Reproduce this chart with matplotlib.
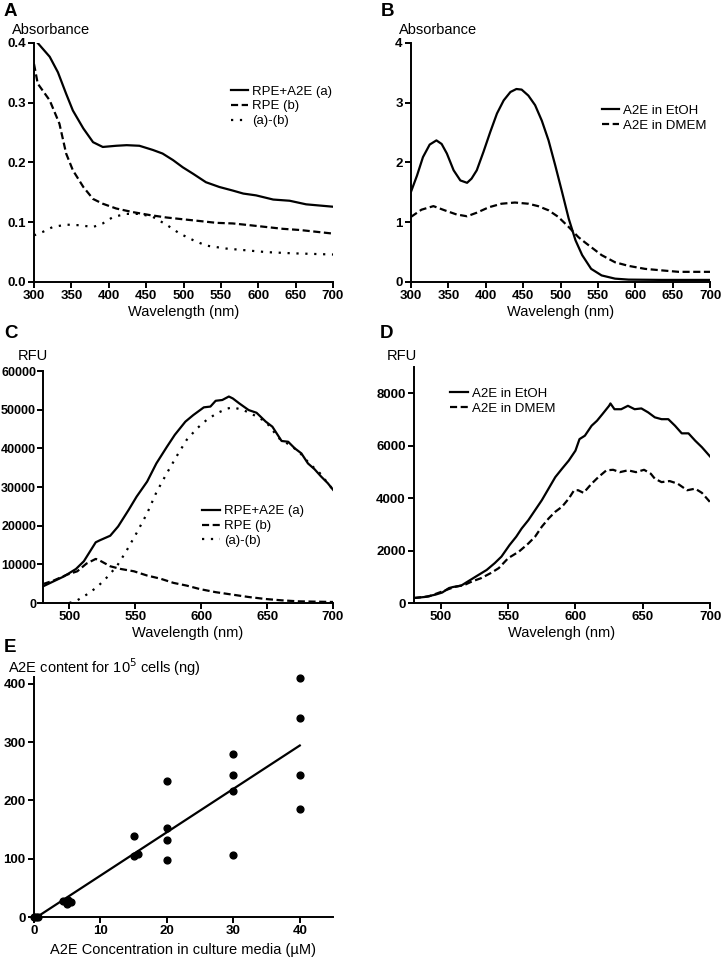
import numpy as np
import matplotlib
matplotlib.use('Agg')
import matplotlib.pyplot as plt

plt.rcParams['font.family'] = ['Liberation Sans', 'DejaVu Sans']

# --- panel A: absorbance of cell extracts ---
wl_a = [305, 321, 332, 343, 352, 366, 379, 392, 410, 424, 441, 459, 472, 486, 499, 513,
        530, 548, 566, 580, 597, 620, 642, 664, 682, 700]
rpe_a2e_a = [0.400, 0.377, 0.351, 0.315, 0.287, 0.257, 0.234, 0.226, 0.228, 0.229, 0.228, 0.221,
             0.215, 0.204, 0.192, 0.181, 0.167, 0.159, 0.153, 0.148, 0.145, 0.138, 0.136, 0.130,
             0.128, 0.126]
wl_b = [300, 305, 321, 334, 343, 352, 366, 379, 392, 410, 432, 455, 477, 499, 522, 544, 566,
        589, 611, 633, 656, 678, 700]
rpe_b = [0.365, 0.332, 0.304, 0.265, 0.215, 0.187, 0.159, 0.139, 0.131, 0.123, 0.117, 0.112,
         0.108, 0.105, 0.102, 0.099, 0.098, 0.095, 0.092, 0.089, 0.087, 0.084, 0.081]
wl_diff = [300, 312, 325, 343, 361, 379, 392, 406, 424, 441, 459, 477, 495, 513, 530, 557, 584,
           611, 646, 673, 700]
diff_ab = [0.078, 0.084, 0.092, 0.096, 0.095, 0.092, 0.098, 0.109, 0.114, 0.114, 0.109, 0.096,
           0.081, 0.070, 0.061, 0.056, 0.053, 0.050, 0.048, 0.047, 0.046]

# --- panel B: A2E absorbance in EtOH / DMEM ---
wl_etoh = [300, 308, 316, 325, 334, 341, 348, 357, 366, 375, 381, 388, 397, 406, 415, 424, 433,
           441, 448, 457, 466, 475, 484, 493, 502, 511, 520, 529, 541, 555, 573, 591, 635, 700]
abs_etoh = [1.51, 1.78, 2.09, 2.30, 2.37, 2.31, 2.15, 1.87, 1.70, 1.66, 1.73, 1.87, 2.18, 2.51,
            2.82, 3.04, 3.18, 3.23, 3.22, 3.12, 2.96, 2.70, 2.37, 1.95, 1.51, 1.06, 0.70, 0.45,
            0.22, 0.11, 0.056, 0.04, 0.035, 0.035]
wl_dmem = [300, 314, 330, 345, 361, 375, 388, 404, 421, 439, 457, 470, 484, 497, 511, 524, 533,
           555, 573, 591, 613, 635, 658, 700]
abs_dmem = [1.09, 1.21, 1.27, 1.20, 1.13, 1.10, 1.16, 1.25, 1.31, 1.33, 1.31, 1.27, 1.20, 1.09,
            0.92, 0.75, 0.66, 0.45, 0.33, 0.27, 0.22, 0.195, 0.17, 0.17]

# --- panel C: fluorescence of cell extracts ---
wl_c1 = [480, 488, 496, 505, 511, 520, 523, 531, 537, 545, 551, 559, 566, 574, 580, 588, 594,
         602, 607, 611, 616, 621, 624, 629, 636, 642, 649, 654, 661, 666, 671, 676, 681, 686,
         691, 696, 700]
rfu_c1 = [4300, 5600, 6900, 8800, 10800, 15700, 16200, 17400, 19800, 24100, 27500, 31400, 36100,
          40400, 43500, 46900, 48600, 50600, 50800, 52300, 52500, 53400, 52900, 51600, 49900,
          49200, 46900, 45600, 41900, 41700, 40000, 38700, 36100, 34600, 32700, 31000, 29300]
wl_c2 = [480, 488, 498, 506, 513, 520, 523, 531, 539, 549, 559, 569, 579, 589, 599, 611, 624,
         636, 649, 661, 674, 700]
rfu_c2 = [4900, 5800, 7300, 8200, 10200, 11400, 11000, 9500, 8800, 8200, 7100, 6300, 5200, 4500,
          3600, 2800, 2150, 1550, 1030, 690, 430, 260]
wl_c3 = [500, 506, 513, 521, 528, 536, 543, 551, 559, 566, 574, 582, 589, 597, 604, 612, 620,
         624, 632, 640, 649, 659, 667, 674, 682, 690, 700]
rfu_c3 = [0, 700, 2150, 4100, 6450, 9500, 13300, 18100, 23200, 28600, 33600, 38300, 42200, 45200,
          47300, 49100, 50300, 50600, 49900, 48600, 46900, 42600, 40900, 39200, 36100, 33600,
          29300]

# --- panel D: A2E fluorescence in EtOH / DMEM ---
wl_d1 = [480, 488, 496, 501, 506, 509, 515, 520, 526, 534, 540, 545, 551, 556, 560, 565, 570,
         575, 580, 585, 590, 595, 600, 603, 607, 612, 616, 620, 625, 626, 629, 634, 639, 644,
         649, 654, 659, 664, 669, 674, 679, 684, 689, 694, 700]
rfu_d1 = [190, 230, 320, 400, 570, 610, 660, 820, 1010, 1260, 1520, 1770, 2210, 2530, 2840, 3160,
          3540, 3920, 4360, 4800, 5120, 5430, 5810, 6250, 6380, 6760, 6950, 7200, 7520, 7610,
          7390, 7390, 7520, 7390, 7420, 7270, 7080, 7010, 7010, 6760, 6470, 6470, 6190, 5940,
          5590]
wl_d2 = [480, 491, 501, 510, 518, 523, 530, 537, 543, 550, 558, 565, 570, 575, 580, 585, 590,
         595, 599, 602, 606, 612, 617, 623, 628, 633, 639, 645, 651, 656, 659, 664, 670, 676,
         683, 689, 694, 700]
rfu_d2 = [190, 250, 440, 610, 700, 820, 950, 1140, 1330, 1710, 1960, 2270, 2530, 2910, 3220, 3480,
          3670, 3980, 4300, 4300, 4200, 4550, 4800, 5060, 5080, 4990, 5060, 4990, 5080, 4930,
          4740, 4610, 4650, 4550, 4300, 4360, 4200, 3850]

# --- panel E: A2E uptake vs concentration ---
conc = [0, 0.3, 0.6, 4.4, 4.9, 5.1, 5.6, 15, 15, 15.7, 20, 20, 20, 20, 30, 30, 30, 30,
        40, 40, 40, 40]
content = [0, 0, 0, 27, 23, 30, 26, 139, 105, 108, 234, 153, 132, 97, 280, 244, 217, 106,
           410, 341, 244, 186]

W, H = 724, 960
fig = plt.figure(figsize=(W / 100, H / 100), dpi=100)


def add_ax(left, top, right, bottom):
    return fig.add_axes([left / W, 1 - bottom / H, (right - left) / W, (bottom - top) / H])


def style(ax, ysize=9.5, ypad=2):
    for s in ['top', 'right']:
        ax.spines[s].set_visible(False)
    for s in ['left', 'bottom']:
        ax.spines[s].set_linewidth(1.4)
    ax.tick_params(direction='out', length=4, width=1.4, labelsize=9.5, pad=2)
    ax.tick_params(axis='y', labelsize=ysize, pad=ypad)
    for lab in ax.get_xticklabels() + ax.get_yticklabels():
        lab.set_fontweight('bold')


solid = dict(color='black', lw=1.6, ls='-')
dashed = dict(color='black', lw=1.6, ls=(0, (3.2, 1.6)))
dotted = dict(color='black', lw=1.6, ls=(0, (1, 3)))
leg_kw = dict(frameon=False, fontsize=9.5, handlelength=1.35, handletextpad=0.3,
              labelspacing=0.2, borderaxespad=0, loc='upper left')

# A
ax = add_ax(34, 43, 333, 282)
ax.plot(wl_a, rpe_a2e_a, label='RPE+A2E (a)', **solid)
ax.plot(wl_b, rpe_b, label='RPE (b)', **dashed)
ax.plot(wl_diff, diff_ab, label='(a)-(b)', **dotted)
ax.set_xlim(300, 700)
ax.set_ylim(0, 0.4)
ax.set_xticks(np.arange(300, 701, 50))
ax.set_yticks([0, 0.1, 0.2, 0.3, 0.4])
ax.set_yticklabels(['0.0', '0.1', '0.2', '0.3', '0.4'])
ax.set_xlabel('Wavelength (nm)', fontsize=10.5, labelpad=2)
ax.legend(bbox_to_anchor=(0.64, 0.845), **leg_kw)
style(ax)

# B
ax = add_ax(411, 43, 710, 282)
ax.plot(wl_etoh, abs_etoh, label='A2E in EtOH', **solid)
ax.plot(wl_dmem, abs_dmem, label='A2E in DMEM', **dashed)
ax.set_xlim(300, 700)
ax.set_ylim(0, 4)
ax.set_xticks(np.arange(300, 701, 50))
ax.set_yticks([0, 1, 2, 3, 4])
ax.set_xlabel('Wavelengh (nm)', fontsize=10.5, labelpad=2)
ax.legend(bbox_to_anchor=(0.62, 0.765), **leg_kw)
style(ax)

# C
ax = add_ax(43, 371, 333, 603)
ax.plot(wl_c1, rfu_c1, label='RPE+A2E (a)', **solid)
ax.plot(wl_c2, rfu_c2, label='RPE (b)', **dashed)
ax.plot(wl_c3, rfu_c3, label='(a)-(b)', **dotted)
ax.set_xlim(480, 700)
ax.set_ylim(0, 60000)
ax.set_xticks(np.arange(500, 701, 50))
ax.set_yticks(np.arange(0, 60001, 10000))
ax.set_xlabel('Wavelength (nm)', fontsize=10.5, labelpad=2)
ax.legend(bbox_to_anchor=(0.53, 0.445), **leg_kw)
style(ax, ysize=9, ypad=1)

# D
ax = add_ax(414, 367, 710, 603)
ax.plot(wl_d1, rfu_d1, label='A2E in EtOH', **solid)
ax.plot(wl_d2, rfu_d2, label='A2E in DMEM', **dashed)
ax.set_xlim(480, 700)
ax.set_ylim(0, 9000)
ax.set_xticks(np.arange(500, 701, 50))
ax.set_yticks(np.arange(0, 8001, 2000))
ax.set_xlabel('Wavelengh (nm)', fontsize=10.5, labelpad=2)
ax.legend(bbox_to_anchor=(0.105, 0.935), **leg_kw)
style(ax)

# E
ax = add_ax(34, 677, 333, 917)
ax.scatter(conc, content, s=24, color='black', zorder=3, clip_on=False)
slope, icpt = np.polyfit(conc, content, 1)
xfit = np.array([0, 40])
ax.plot(xfit, slope * xfit + icpt, color='black', lw=1.6)
ax.set_xlim(0, 45)
ax.set_ylim(0, 412)
ax.set_xticks([0, 10, 20, 30, 40])
ax.set_yticks([0, 100, 200, 300, 400])
ax.set_xlabel('A2E Concentration in culture media (\u00b5M)', fontsize=10.5, labelpad=4)
style(ax)

# y labels drawn horizontally above each axis
fig.text(12 / W, 1 - 30 / H, 'Absorbance', fontsize=10.5, va='center')
fig.text(399 / W, 1 - 30 / H, 'Absorbance', fontsize=10.5, va='center')
fig.text(18 / W, 1 - 356 / H, 'RFU', fontsize=10.5, va='center')
fig.text(387 / W, 1 - 356 / H, 'RFU', fontsize=10.5, va='center')
fig.text(8 / W, 1 - 667 / H, 'A2E content for 10$^5$ cells (ng)', fontsize=10.5, va='center')

# panel letters
for letter, px, py in [('A', 4, 11), ('B', 381, 11), ('C', 4, 333), ('D', 380, 333),
                       ('E', 4, 647)]:
    fig.text(px / W, 1 - py / H, letter, fontsize=13.5, fontweight='bold', va='center')

fig.savefig('out.png', dpi=100)
